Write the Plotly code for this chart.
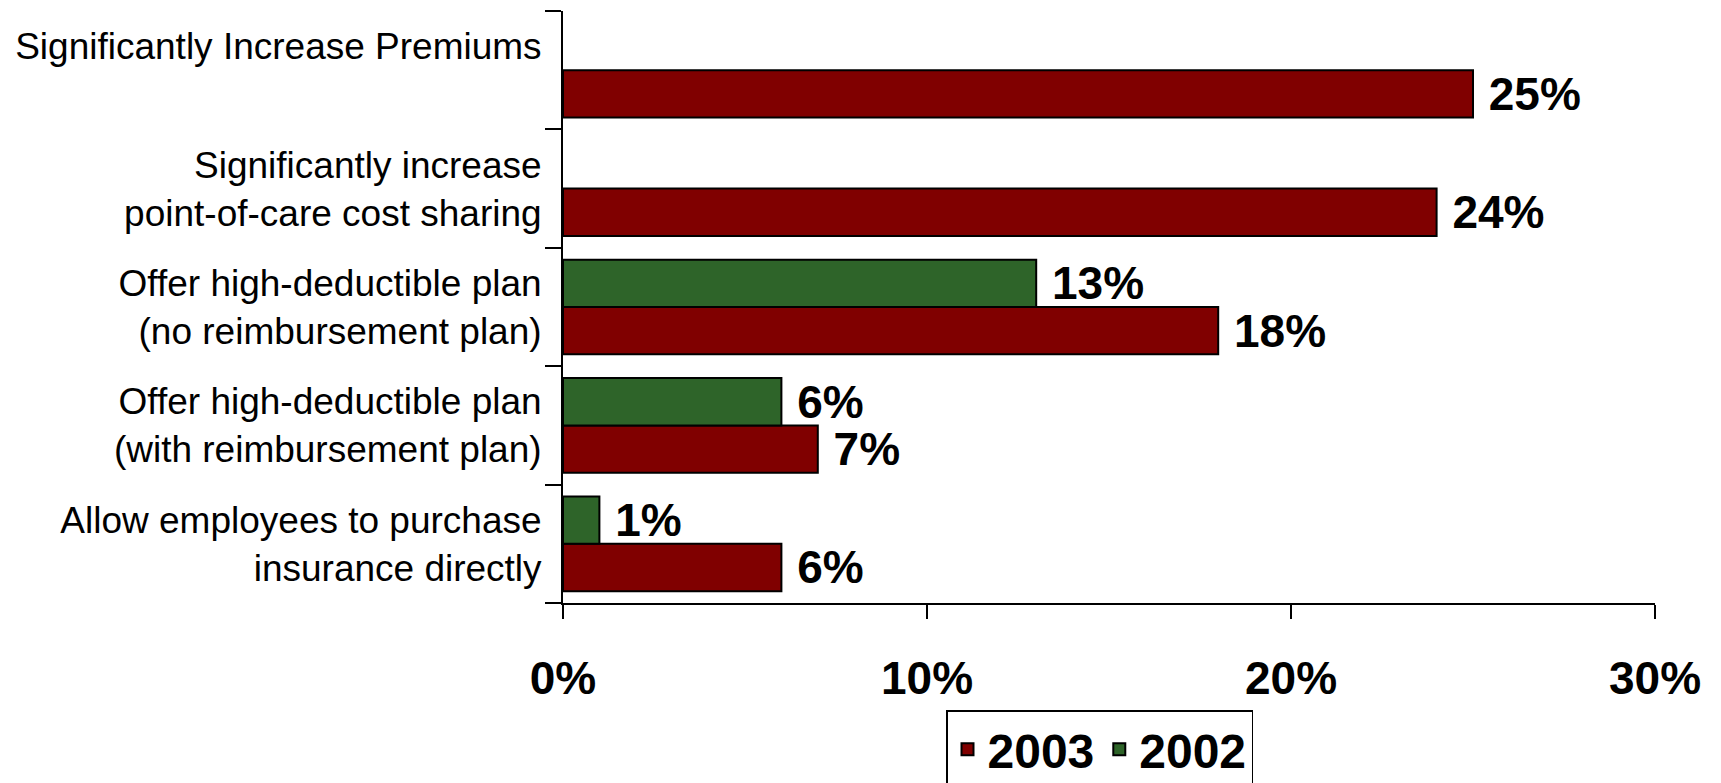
import plotly.graph_objects as go

categories = [
    "Significantly Increase Premiums<br>\u00a0",
    "Significantly increase<br>point-of-care cost sharing",
    "Offer high-deductible plan<br>(no reimbursement plan)",
    "Offer high-deductible plan<br>(with reimbursement plan)",
    "Allow employees to purchase<br>insurance directly",
]
values_2003 = [25, 24, 18, 7, 6]
values_2002 = [None, None, 13, 6, 1]
x_ticks = [0, 10, 20, 30]
x_tick_labels = ["0%", "10%", "20%", "30%"]

RED = "#800000"
GREEN = "#2E6429"
FONT = "Liberation Sans, Arial, sans-serif"

fig = go.Figure()
fig.add_trace(go.Bar(
    name="2003", y=categories, x=values_2003, orientation="h",
    marker=dict(color=RED, line=dict(color="black", width=2)),
    texttemplate="\u00a0%{x}%", textposition="outside", constraintext="none",
    textfont=dict(family=FONT, size=46, color="black", weight="bold"),
    cliponaxis=False,
))
fig.add_trace(go.Bar(
    name="2002", y=categories, x=values_2002, orientation="h",
    marker=dict(color=GREEN, line=dict(color="black", width=2)),
    texttemplate="\u00a0%{x}%", textposition="outside", constraintext="none",
    textfont=dict(family=FONT, size=46, color="black", weight="bold"),
    cliponaxis=False,
))

fig.update_layout(
    width=1721, height=783,
    margin=dict(l=563, r=66, t=11, b=180, autoexpand=False),
    paper_bgcolor="white", plot_bgcolor="white",
    barmode="group", bargap=0.2, bargroupgap=0,
    font=dict(family=FONT, color="black"),
    legend=dict(
        orientation="h", xref="container", yref="container",
        x=946 / 1721, y=1 - 710 / 783, xanchor="left", yanchor="top",
        bordercolor="black", borderwidth=1.5, bgcolor="white",
        font=dict(family=FONT, size=48, color="black", weight="bold"),
        traceorder="normal",
    ),
    xaxis=dict(
        range=[0, 30], tickmode="array", tickvals=x_ticks, ticktext=x_tick_labels,
        showgrid=False, zeroline=False, showline=True, linecolor="black", linewidth=2,
        ticks="outside", ticklen=14, tickwidth=1.5, tickcolor="black",
        tickfont=dict(family=FONT, size=46, color="black", weight="bold"),
        ticklabelstandoff=20,
    ),
    yaxis=dict(
        categoryorder="array", categoryarray=categories[::-1],
        showgrid=False, zeroline=False, showline=True, linecolor="black", linewidth=2,
        ticks="outside", ticklen=16, tickwidth=2, tickcolor="black", tickson="boundaries",
        tickfont=dict(family=FONT, size=37, color="black"),
        ticklabelstandoff=12,
    ),
)

fig.write_html("out.html")
